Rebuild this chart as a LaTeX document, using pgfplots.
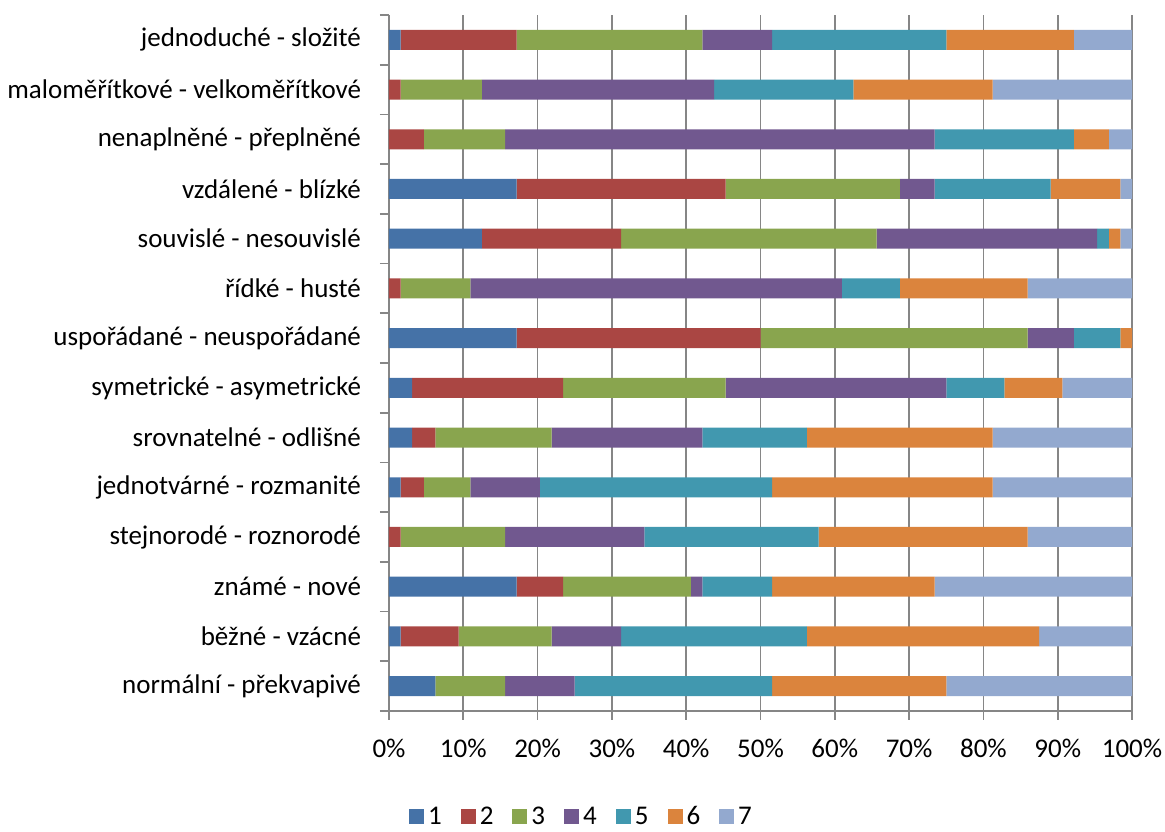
\documentclass[border=0pt]{standalone}
\usepackage{pgfplots}
\pgfplotsset{compat=1.18}
\usepackage{pgfplotstable}
\usepackage{fontspec}
\setmainfont{Carlito}
\definecolor{c1}{HTML}{4572A7}
\definecolor{c2}{HTML}{AA4643}
\definecolor{c3}{HTML}{89A54E}
\definecolor{c4}{HTML}{71588F}
\definecolor{c5}{HTML}{4198AF}
\definecolor{c6}{HTML}{DB843D}
\definecolor{c7}{HTML}{93A9CF}
\definecolor{gridgray}{HTML}{868686}
\pgfplotstableread{
y s1 s2 s3 s4 s5 s6 s7
13 1.5625 15.625 25 9.375 23.4375 17.1875 7.8125
12 0 1.5625 10.9375 31.25 18.75 18.75 18.75
11 0 4.6875 10.9375 57.8125 18.75 4.6875 3.125
10 17.1875 28.125 23.4375 4.6875 15.625 9.375 1.5625
9 12.5 18.75 34.375 29.6875 1.5625 1.5625 1.5625
8 0 1.5625 9.375 50 7.8125 17.1875 14.0625
7 17.1875 32.8125 35.9375 6.25 6.25 1.5625 0
6 3.125 20.3125 21.875 29.6875 7.8125 7.8125 9.375
5 3.125 3.125 15.625 20.3125 14.0625 25 18.75
4 1.5625 3.125 6.25 9.375 31.25 29.6875 18.75
3 0 1.5625 14.0625 18.75 23.4375 28.125 14.0625
2 17.1875 6.25 17.1875 1.5625 9.375 21.875 26.5625
1 1.5625 7.8125 12.5 9.375 25 31.25 12.5
0 6.25 0 9.375 9.375 26.5625 23.4375 25
}\datatable
\begin{document}
\begin{tikzpicture}
\begin{axis}[
  scale only axis,
  width=371.5pt, height=348pt,
  xbar stacked,
  bar width=10pt,
  xmin=0, xmax=100,
  ymin=-0.5, ymax=13.5,
  axis x line=bottom,
  axis y line=left,
  axis line style={gridgray, line width=0.9pt, -},
  xtick={0,10,...,100},
  xticklabel={\pgfmathprintnumber{\tick}\%},
  /pgf/number format/assume math mode=true,
  xmajorgrids,
  major grid style={gridgray, line width=0.9pt},
  x tick style={gridgray, line width=0.9pt},
  xtick align=outside,
  major tick length=4.5pt,
  minor tick length=4.5pt,
  ytick={0,...,13},
  yticklabels={normální - překvapivé, běžné - vzácné, známé - nové, stejnorodé - roznorodé, jednotvárné - rozmanité, srovnatelné - odlišné, symetrické - asymetrické, uspořádané - neuspořádané, řídké - husté, souvislé - nesouvislé, vzdálené - blízké, nenaplněné - přeplněné, maloměřítkové - velkoměřítkové, jednoduché - složité},
  minor ytick={-0.5,0.5,...,13.5},
  y tick style={gridgray, line width=0.9pt},
  ytick align=outside,
  major y tick style={draw=none},
  tick label style={font=\fontsize{13.5}{15}\selectfont, black},
  yticklabel style={xshift=-6pt},
  xticklabel style={yshift=-6pt},
  legend style={at={(axis description cs:0.2604,0)}, anchor=center, yshift=-53pt, draw=none, legend columns=-1, font=\fontsize{13.5}{15}\selectfont, /tikz/every even column/.append style={column sep=7.5pt}},
  legend image code/.code={\fill[#1] (0pt,-3.75pt) rectangle (7.5pt,3.75pt);},
  clip=false,
]
\addplot[fill=c1, draw=none] table[x=s1, y=y] {\datatable};
\addplot[fill=c2, draw=none] table[x=s2, y=y] {\datatable};
\addplot[fill=c3, draw=none] table[x=s3, y=y] {\datatable};
\addplot[fill=c4, draw=none] table[x=s4, y=y] {\datatable};
\addplot[fill=c5, draw=none] table[x=s5, y=y] {\datatable};
\addplot[fill=c6, draw=none] table[x=s6, y=y] {\datatable};
\addplot[fill=c7, draw=none] table[x=s7, y=y] {\datatable};
\legend{1,2,3,4,5,6,7}
\coordinate (sw) at (rel axis cs:0,0);
\coordinate (ne) at (rel axis cs:1,1);
\end{axis}
\pgfresetboundingbox
\path ([xshift=-194.5pt,yshift=-60.5pt]sw) rectangle ([xshift=16.5pt,yshift=7.5pt]ne);
\end{tikzpicture}
\end{document}
